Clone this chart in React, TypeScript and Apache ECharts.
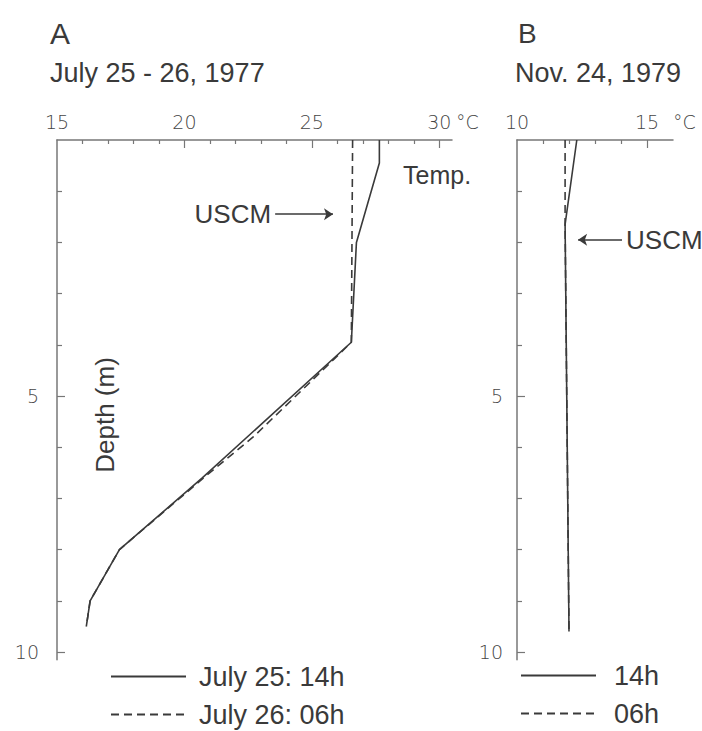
import React, { useEffect, useRef } from "react";
import * as echarts from "echarts";

// Panel A: July 25 - 26, 1977
const depthA14 = [0, 0.45, 2.0, 3.95, 6.6, 8.0, 9.0, 9.5];
const tempA14 = [27.65, 27.65, 26.75, 26.55, 20.7, 17.45, 16.3, 16.15];
const depthA06 = [0, 3.95, 4.7, 5.8, 6.6, 8.0, 9.0, 9.5];
const tempA06 = [26.6, 26.55, 25.0, 22.7, 20.75, 17.45, 16.3, 16.15];

// Panel B: Nov. 24, 1979
const depthB14 = [0, 1.65, 9.6];
const tempB14 = [12.3, 11.85, 12.0];
const depthB06 = [0, 1.65, 9.6];
const tempB06 = [11.85, 11.85, 12.0];

// axis ticks / labels
const tickA = [16, 17, 18, 19, 21, 22, 23, 24, 26, 27, 28, 29];
const majorA = [20, 25, 30];
const labelA = [15, 20, 25, 30];
const tickB = [11, 12, 13, 14];
const majorB = [15];
const labelB = [10, 15];
const depthTicks = [1, 2, 3, 4, 6, 7, 8, 9];
const depthMajor = [5, 10];
const depthLabels = [5, 10];

// annotation (USCM arrows) in data units
const uscmA = { from: 23.56, to: 25.83, depth: 1.45 };
const uscmB = { from: 14.04, to: 12.35, depth: 1.95 };

const legendA = ["July 25: 14h", "July 26: 06h"];
const legendB = ["14h", "06h"];

const SANS = "'Liberation Sans', Arial, Helvetica, sans-serif";
const TICKF = "'DejaVu Sans', sans-serif";
const INK = "#3a3a3a";
const AXIS = "#777";
const TICKC = "#444444";

const zip = (t: number[], d: number[]) => t.map((v, i) => [v, d[i]]);

export default function App() {
  const ref = useRef<HTMLDivElement>(null);
  useEffect(() => {
    if (!ref.current) return;
    const chart = echarts.init(ref.current, null, { renderer: "svg", width: 702, height: 731 });
    const tickLabel = { color: TICKC, fontFamily: TICKF, fontSize: 19, fontWeight: 200 as any };

    const xBase = (grid: number, min: number, max: number, ticks: number[], labels: number[]) => ({
      type: "value",
      gridIndex: grid,
      position: "top",
      min,
      max,
      interval: 1,
      axisLine: { show: true, lineStyle: { color: AXIS, width: 1.5 } },
      axisTick: { show: true, inside: true, length: 4, customValues: ticks, lineStyle: { color: AXIS, width: 1.2 } },
      axisLabel: { show: true, customValues: labels, margin: 9, ...tickLabel },
      splitLine: { show: false },
    });
    const xMajor = (grid: number, min: number, max: number, ticks: number[]) => ({
      type: "value",
      gridIndex: grid,
      position: "top",
      offset: 0,
      min,
      max,
      interval: 1,
      axisLine: { show: false },
      axisTick: { show: true, inside: true, length: 8, customValues: ticks, lineStyle: { color: AXIS, width: 1.2 } },
      axisLabel: { show: false },
      splitLine: { show: false },
    });
    const yBase = (grid: number, margin: number) => ({
      type: "value",
      gridIndex: grid,
      position: "left",
      inverse: true,
      min: 0,
      max: 10.15,
      interval: 1,
      axisLine: { show: true, lineStyle: { color: AXIS, width: 1.5 } },
      axisTick: { show: true, inside: true, length: 5, customValues: depthTicks, lineStyle: { color: AXIS, width: 1.2 } },
      axisLabel: { show: true, customValues: depthLabels, margin, ...tickLabel },
      splitLine: { show: false },
    });
    const yMajor = (grid: number) => ({
      type: "value",
      gridIndex: grid,
      position: "left",
      offset: 0,
      inverse: true,
      min: 0,
      max: 10.15,
      interval: 1,
      axisLine: { show: false },
      axisTick: { show: true, inside: true, length: 8, customValues: depthMajor, lineStyle: { color: AXIS, width: 1.2 } },
      axisLabel: { show: false },
      splitLine: { show: false },
    });

    const arrowLine = (a: { from: number; to: number; depth: number }) => ({
      silent: true,
      symbol: ["none", "arrow"],
      symbolSize: 9,
      lineStyle: { color: INK, width: 1.5, type: "solid" },
      label: {
        show: true,
        position: "start",
        formatter: "USCM",
        color: INK,
        fontFamily: SANS,
        fontSize: 26,
        distance: 4,
      },
      data: [[{ coord: [a.from, a.depth] }, { coord: [a.to, a.depth] }]],
    });

    const lineSeries = (name: string, x: number, y: number, data: number[][], dashed: boolean, mark?: any) => ({
      name,
      type: "line",
      xAxisIndex: x,
      yAxisIndex: y,
      data,
      symbol: "none",
      showSymbol: false,
      lineStyle: { color: INK, width: 1.6, type: dashed ? [8, 5] : "solid" },
      itemStyle: { color: INK },
      z: 3,
      ...(mark ? { markLine: mark } : {}),
    });

    const legendCommon = {
      orient: "vertical",
      padding: 0,
      height: 70,
      itemWidth: 75,
      itemHeight: 26,
      itemGap: 11,
      selectedMode: false,
      itemStyle: { opacity: 0 },
    };
    const legendText = (pad: number) => ({
      color: INK,
      fontFamily: SANS,
      fontSize: 27,
      lineHeight: 26,
      padding: [0, 0, 0, pad],
    });

    chart.setOption({
      animation: false,
      backgroundColor: "#fff",
      grid: [
        { left: 57, top: 140, width: 395, height: 519.7 },
        { left: 517, top: 140, width: 156, height: 519.7 },
      ],
      xAxis: [
        xBase(0, 15, 30.5, tickA, labelA),
        xBase(1, 10, 16, tickB, labelB),
        xMajor(0, 15, 30.5, majorA),
        xMajor(1, 10, 16, majorB),
      ],
      yAxis: [yBase(0, 18), yBase(1, 14), yMajor(0), yMajor(1)],
      legend: [
        { ...legendCommon, data: legendA, left: 110, top: 663, textStyle: legendText(8) },
        { ...legendCommon, data: legendB, left: 520, top: 662, textStyle: legendText(13) },
      ],
      series: [
        lineSeries(legendA[0], 0, 0, zip(tempA14, depthA14), false, arrowLine(uscmA)),
        lineSeries(legendA[1], 0, 0, zip(tempA06, depthA06), true),
        lineSeries(legendB[0], 1, 1, zip(tempB14, depthB14), false, arrowLine(uscmB)),
        lineSeries(legendB[1], 1, 1, zip(tempB06, depthB06), true),
      ],
      graphic: [
        { type: "text", left: 50, top: 18, style: { text: "A", fill: INK, font: `30px ${SANS}` } },
        { type: "text", x: 50, y: 73, style: { text: "July 25 - 26, 1977", fill: INK, font: `27px ${SANS}`, verticalAlign: "middle" } },
        { type: "text", x: 518, y: 33, style: { text: "B", fill: INK, font: `28px ${SANS}`, verticalAlign: "middle" } },
        { type: "text", x: 515, y: 73, style: { text: "Nov. 24, 1979", fill: INK, font: `27px ${SANS}`, verticalAlign: "middle" } },
        { type: "text", x: 456, y: 122, style: { text: "°C", fill: TICKC, font: `200 19px ${TICKF}`, verticalAlign: "middle" } },
        { type: "text", x: 673, y: 122, style: { text: "°C", fill: TICKC, font: `200 19px ${TICKF}`, verticalAlign: "middle" } },
        { type: "text", x: 403, y: 175, style: { text: "Temp.", fill: INK, font: `25px ${SANS}`, verticalAlign: "middle" } },
        {
          type: "text",
          x: 105,
          y: 415,
          rotation: Math.PI / 2,
          style: { text: "Depth (m)", fill: INK, font: `26px ${SANS}`, align: "center", verticalAlign: "middle" },
        },
      ],
    });
    return () => chart.dispose();
  }, []);
  return <div ref={ref} style={{ position: "absolute", left: 0, top: 0, width: 702, height: 731 }} />;
}
